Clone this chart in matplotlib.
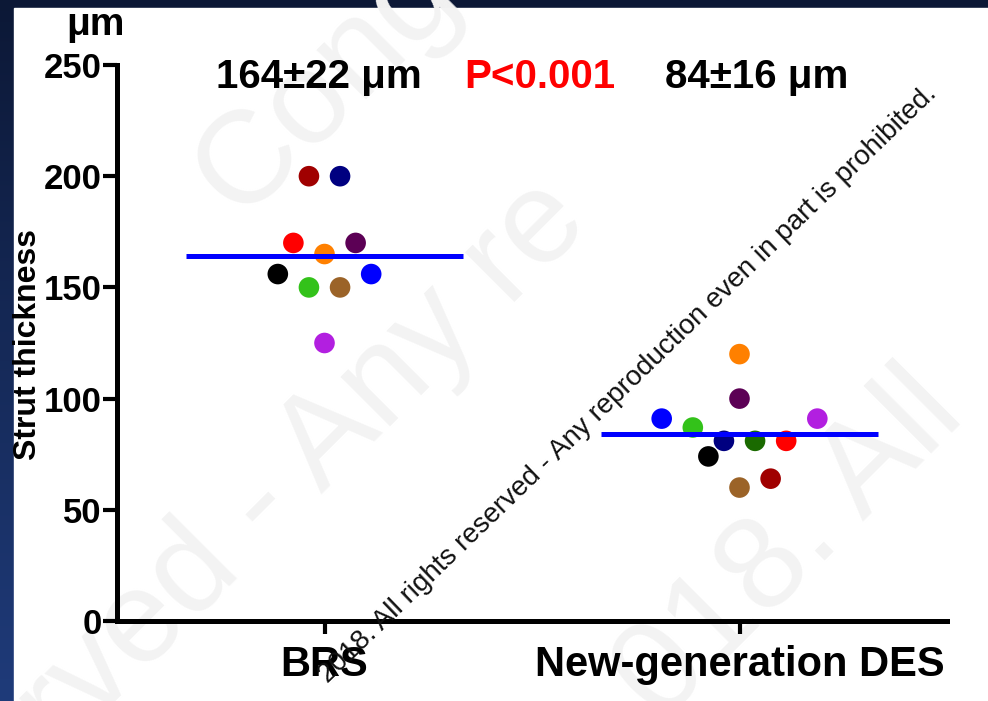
import numpy as np
import matplotlib.pyplot as plt
from matplotlib.patches import Rectangle

plt.rcParams['font.family'] = ['Liberation Sans', 'DejaVu Sans']

groups = ["BRS", "New-generation DES"]
means = [164, 84]

# BRS struts (um), jitter step index, colour
brs_vals = [200, 200, 170, 165, 170, 156, 150, 150, 156, 125]
brs_slot = [-1, 1, -2, 0, 2, -3, -1, 1, 3, 0]
brs_cols = ["#a00000", "#000080", "#ff0000", "#ff8000", "#5c0055",
            "#000000", "#33c21a", "#9b6328", "#0000ff", "#b21fe0"]

des_vals = [120, 100, 91, 87, 81, 81, 81, 74, 64, 60, 91]
des_slot = [0, 0, -5, -3, -1, 1, 3, -2, 2, 0, 5]
des_cols = ["#ff8000", "#5c0055", "#0000ff", "#33c21a", "#000080",
            "#1a6a00", "#ff0000", "#000000", "#a00000", "#9b6328", "#b21fe0"]

step = 0.0375

fig = plt.figure(figsize=(9.88, 7.01), dpi=100)

# dark slide background + white panel
bg = fig.add_axes([0, 0, 1, 1], zorder=-10)
grad = np.linspace(0, 1, 256).reshape(-1, 1)
bg.imshow(grad, aspect='auto', cmap=plt.matplotlib.colors.LinearSegmentedColormap.from_list(
    "navy", ["#0c1836", "#1f3b7a"]), extent=[0, 1, 0, 1], origin='upper')
bg.add_patch(Rectangle((14 / 988, 0), 1, 1 - 8 / 701, color="white"))
bg.set_xlim(0, 1)
bg.set_ylim(0, 1)
bg.axis("off")

# faint background watermark
for txt, x, y in [("Cong", 0.33, 0.88), ("erved - Any re", 0.28, 0.30), ("018. All", 0.80, 0.22)]:
    bg.text(x, y, txt, fontsize=95, color="#f3f3f3", rotation=45,
            ha="center", va="center", clip_on=True)

ax = fig.add_axes([117 / 988, 1 - 621 / 701, (947 - 117) / 988, (621 - 65) / 701])
ax.patch.set_alpha(0)

ax.scatter(np.array(brs_slot) * step, brs_vals, s=220, c=brs_cols, zorder=3, linewidths=0)
ax.scatter(1 + np.array(des_slot) * step, des_vals, s=220, c=des_cols, zorder=3, linewidths=0)
for i, m in enumerate(means):
    ax.plot([i - 1 / 3, i + 1 / 3], [m, m], color="#0000ff", lw=3.6, zorder=4,
            solid_capstyle="butt")

ax.set_xlim(-0.5, 1.5)
ax.set_ylim(0, 250)
ax.set_yticks([0, 50, 100, 150, 200, 250])
ax.set_xticks([0, 1])
ax.set_xticklabels(groups, fontsize=30, fontweight="bold")
for lab in ax.get_yticklabels():
    lab.set_fontsize(25)
    lab.set_fontweight("bold")
ax.tick_params(axis="y", length=10, width=3, pad=1)
ax.tick_params(axis="x", length=9, width=3, pad=8)
for s in ["top", "right"]:
    ax.spines[s].set_visible(False)
for s in ["left", "bottom"]:
    ax.spines[s].set_linewidth(3.6)

fig.text(28 / 988, 1 - 345 / 701, "Strut thickness", rotation=90, fontsize=23,
         fontweight="bold", ha="center", va="center")
fig.text(95 / 988, 1 - 25 / 701, "μm", fontsize=28, fontweight="bold",
         ha="center", va="center")

# stats header
fig.text(216 / 988, 1 - 77 / 701, "164±22 μm", fontsize=29, fontweight="bold",
         ha="left", va="center")
fig.text(540 / 988, 1 - 77 / 701, "P<0.001", fontsize=29, fontweight="bold",
         color="#ff0000", ha="center", va="center")
fig.text(848 / 988, 1 - 77 / 701, "84±16 μm", fontsize=29, fontweight="bold",
         ha="right", va="center")

# copyright notice across the plot
fig.text(628 / 988, 1 - 384 / 701,
         "2018. All rights reserved - Any reproduction even in part is prohibited.",
         fontsize=20, rotation=44, rotation_mode="anchor", ha="center", va="center",
         color="#111111")

fig.savefig("out.png", dpi=100)
